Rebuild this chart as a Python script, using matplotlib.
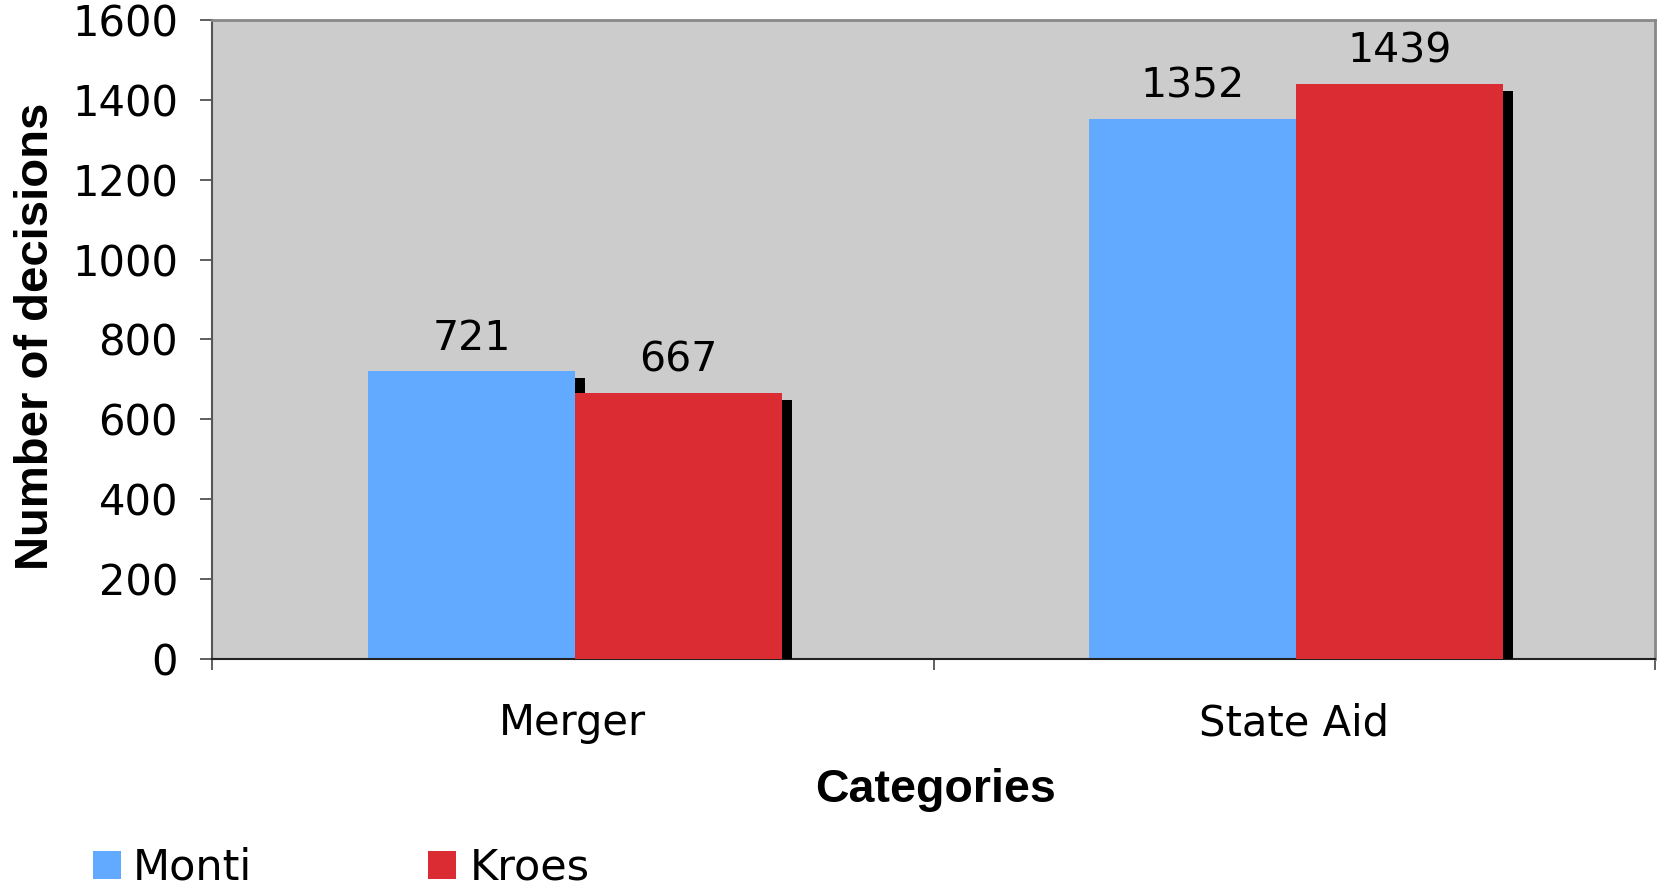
import matplotlib
matplotlib.use("Agg")
import matplotlib.pyplot as plt
import matplotlib.patheffects as pe
from matplotlib.patches import Rectangle
import numpy as np

categories = ["Merger", "State Aid"]
monti = [721, 1352]
kroes = [667, 1439]
series_names = ["Monti", "Kroes"]
yticks = [0, 200, 400, 600, 800, 1000, 1200, 1400, 1600]

blue = "#62AAFF"
red = "#DC2C33"

plt.rcParams['font.family'] = ['DejaVu Sans']
W, H = 1668, 885
fig = plt.figure(figsize=(W / 100, H / 100), dpi=100)
ax = fig.add_axes([212 / W, 1 - 659 / H, 1443 / W, 639 / H])
ax.set_facecolor("#CCCCCC")

x = np.arange(len(categories))
w = 0.287
shift = 0.003
shadow = [pe.SimplePatchShadow(offset=(7.2, -5.0), shadow_rgbFace="black", alpha=1.0), pe.Normal()]
b1 = ax.bar(x - w / 2 + shift, monti, w, color=blue, linewidth=0, path_effects=shadow, zorder=2)
b2 = ax.bar(x + w / 2 + shift, kroes, w, color=red, linewidth=0, path_effects=shadow, zorder=3)

for bars, vals in ((b1, monti), (b2, kroes)):
    for r, v in zip(bars, vals):
        ax.annotate(str(v), (r.get_x() + r.get_width() / 2, v), xytext=(0, 9),
                    textcoords="offset points", ha="center", va="bottom", fontsize=29.5)

ax.set_xlim(-0.5, 1.5)
ax.set_ylim(0, 1600)
ax.set_yticks(yticks)
ax.set_yticklabels([str(t) for t in yticks], fontsize=30)
ax.set_xticks(x)
ax.set_xticklabels(categories, fontsize=30)
ax.set_xticks([-0.5, 0.5, 1.5], minor=True)
ax.tick_params(axis="x", which="major", length=0, pad=31)
ax.tick_params(axis="x", which="minor", length=8, width=1.2, color="#444444")
ax.tick_params(axis="y", length=8.5, width=1.2, color="#444444", pad=16)

for s in ["top", "right"]:
    ax.spines[s].set_color("#888888")
    ax.spines[s].set_linewidth(2)
ax.spines["left"].set_color("#555555")
ax.spines["left"].set_linewidth(1.5)
ax.spines["bottom"].set_color("#222222")
ax.spines["bottom"].set_linewidth(1.5)

ax.set_ylabel("Number of decisions", fontsize=34, fontweight="bold", family="Liberation Sans")
ax.yaxis.set_label_coords(-0.107, 0.505)
ax.set_xlabel("Categories", fontsize=33.5, fontweight="bold", family="Liberation Sans")
ax.xaxis.set_label_coords(0.5017, -0.170)

# legend (manual placement)
leg_boxes = [93, 428]
leg_text = [133, 470]
for name, color, bx, tx in zip(series_names, [blue, red], leg_boxes, leg_text):
    fig.patches.append(Rectangle((bx / W, 1 - 879 / H), 28 / W, 28 / H,
                                 transform=fig.transFigure, facecolor=color, edgecolor="none"))
    fig.text(tx / W, 1 - 879 / H, name, fontsize=31, va="baseline", ha="left")

fig.savefig("out.png", dpi=100)
